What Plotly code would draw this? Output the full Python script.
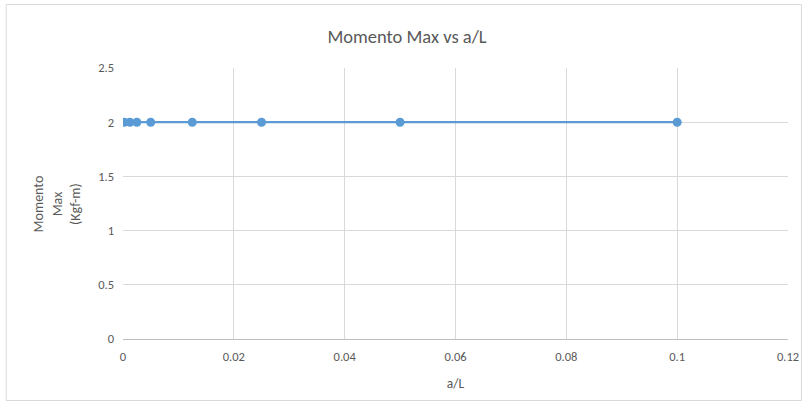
import plotly.graph_objects as go

x_vals = [0.1, 0.05, 0.025, 0.0125, 0.005, 0.0025, 0.00125, 0.00025]
y_vals = [2, 2, 2, 2, 2, 2, 2, 2]
x_ticks = [0, 0.02, 0.04, 0.06, 0.08, 0.1, 0.12]
x_tick_labels = ["0", "0.02", "0.04", "0.06", "0.08", "0.1", "0.12"]
y_ticks = [0, 0.5, 1, 1.5, 2, 2.5]
y_tick_labels = ["0", "0.5", "1", "1.5", "2", "2.5"]

FONT = "Carlito, Calibri, 'Open Sans', sans-serif"
TXT = "#595959"
GRID = "#D9D9D9"

W, H = 811, 405
L, R, T, B = 123, 19, 68, 66
pw, ph = W - L - R, H - T - B

def px2x(p):
    return (p - L) / pw

def py2y(p):
    return (H - B - p) / ph

fig = go.Figure()
fig.add_trace(go.Scatter(
    x=x_vals, y=y_vals, mode="lines+markers",
    line=dict(color="#5B9BD5", width=2.25),
    marker=dict(color="#5B9BD5", size=9),
    showlegend=False,
))

fig.update_layout(
    width=W, height=H,
    margin=dict(l=L, r=R, t=T, b=B),
    paper_bgcolor="white", plot_bgcolor="white",
    font=dict(family=FONT, color=TXT, size=12),
    title=dict(text="Momento Max vs a/L", x=407 / W, xref="container", xanchor="center",
               y=1 - 37 / H, yref="container", yanchor="middle",
               font=dict(size=18.5, color=TXT, family=FONT, weight=300)),
    xaxis=dict(range=[0, 0.12], tickvals=x_ticks, ticktext=x_tick_labels,
               showgrid=True, gridcolor=GRID, gridwidth=1, zeroline=False,
               showline=True, linecolor="#BFBFBF", linewidth=1,
               ticks="", tickfont=dict(size=12.5, color=TXT), ticklabelstandoff=6,
               title=dict(text="a/L", font=dict(size=13.5, color=TXT), standoff=15)),
    yaxis=dict(range=[0, 2.5], tickvals=y_ticks, ticktext=y_tick_labels,
               showgrid=True, gridcolor=GRID, gridwidth=1, zeroline=False,
               showline=False, ticks="", tickfont=dict(size=12.5, color=TXT),
               ticklabelstandoff=8),
    shapes=[dict(type="rect", xref="paper", yref="paper",
                 x0=px2x(5.5), x1=px2x(805.5), y0=py2y(400.5), y1=py2y(4.5),
                 line=dict(color="#D9D9D9", width=1), fillcolor="rgba(0,0,0,0)",
                 layer="below")],
    annotations=[dict(text="Momento<br>Max<br>(Kgf-m)", xref="paper", yref="paper",
                      x=px2x(56), y=py2y(204), textangle=-90, showarrow=False,
                      xanchor="center", yanchor="middle",
                      font=dict(size=14, color=TXT, family=FONT))],
)

fig.write_html("out.html", config={"displayModeBar": False},
               post_script="document.body.style.margin='0';document.body.style.overflow='hidden';")
